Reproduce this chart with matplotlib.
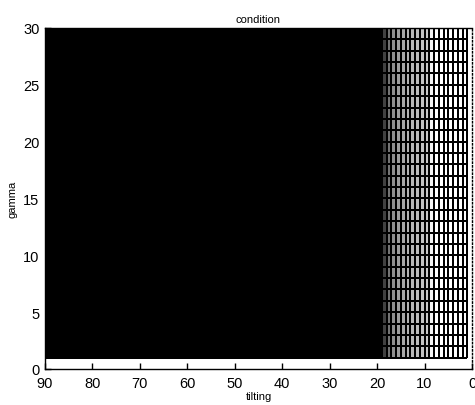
import numpy as np
import matplotlib
matplotlib.use('Agg')
import matplotlib.pyplot as plt

plt.rcParams['font.family'] = ['Liberation Sans', 'DejaVu Sans']

# mesh nodes: tilting angle (deg) and gamma
tilting = np.arange(1, 91)
gamma = np.arange(1, 31)

# shade of each mesh cell column (1 = white, 0 = black), read from the print,
# one value per interval between neighbouring tilting nodes (1-2, 2-3, ... 89-90)
shade = [1.0, 1.0, 1.0, 1.0, 1.0, 1.0, 1.0, 0.95,
         0.78, 0.76, 0.74, 0.72, 0.7, 0.66, 0.62, 0.56, 0.45, 0.25] + [0.0] * 71

x_ticks = [90, 80, 70, 60, 50, 40, 30, 20, 10, 0]
y_ticks = [0, 5, 10, 15, 20, 25, 30]

fig = plt.figure(figsize=(4.75, 4.06), dpi=100)
ax = fig.add_axes([0.0947, 0.0887, 0.8990, 0.8399])

C = np.tile(np.array(shade), (len(gamma) - 1, 1))
ax.pcolormesh(tilting, gamma, C, cmap='gray', vmin=0, vmax=1,
              edgecolors='black', linewidth=1.1, shading='flat')

ax.set_xlim(90, 0)
ax.set_ylim(0, 30)
ax.set_xticks(x_ticks)
ax.set_yticks(y_ticks)
ax.tick_params(direction='in', labelsize=10.5, length=4, width=1)
ax.tick_params(axis='x', pad=5)
ax.tick_params(axis='y', pad=4)
ax.set_title('condition', fontsize=8, pad=4)
ax.set_xlabel('tilting', fontsize=8, labelpad=1)
ax.set_ylabel('gamma', fontsize=8, labelpad=4)
for s in ax.spines.values():
    s.set_linewidth(1)
ax.spines['right'].set_linestyle(':')

plt.savefig('out.png', dpi=100)
